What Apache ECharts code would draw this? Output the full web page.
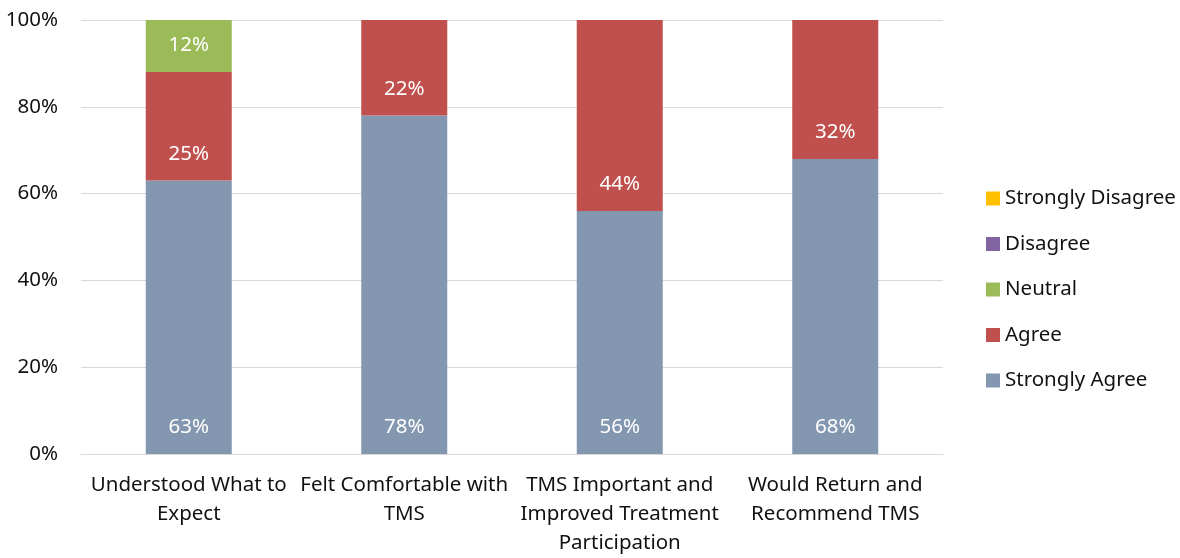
<!DOCTYPE html>
<html>
<head>
<meta charset="utf-8">
<script src="https://cdn.jsdelivr.net/npm/echarts@6/dist/echarts.min.js"></script>
<style>
  html, body { margin: 0; padding: 0; background: #fff; overflow: hidden; }
  #chart { width: 1180px; height: 558px; }
</style>
</head>
<body>
<div id="chart"></div>
<script>
// Survey items (wrapped onto lines as drawn under the axis)
const categories = [
  'Understood What to\nExpect',
  'Felt Comfortable with\nTMS',
  'TMS Important and\nImproved Treatment\nParticipation',
  'Would Return and\nRecommend TMS'
];

// Percent of responses per answer, one value per item
const stronglyAgree    = [63, 78, 56, 68];
const agree            = [25, 22, 44, 32];
const neutral          = [12, 0, 0, 0];
const disagree         = [0, 0, 0, 0];
const stronglyDisagree = [0, 0, 0, 0];

const yTicks = { min: 0, max: 100, interval: 20 };

const FONT = '"Noto Sans", "Open Sans", sans-serif';
const FS = 20.5;

const seriesDefs = [
  { name: 'Strongly Agree',    data: stronglyAgree,    color: '#8497B0' },
  { name: 'Agree',             data: agree,            color: '#C0504D' },
  { name: 'Neutral',           data: neutral,          color: '#9BBB59' },
  { name: 'Disagree',          data: disagree,         color: '#8064A2' },
  { name: 'Strongly Disagree', data: stronglyDisagree, color: '#FFC000' }
];

const chart = echarts.init(document.getElementById('chart'), null, { renderer: 'canvas' });

chart.setOption({
  animation: false,
  backgroundColor: '#ffffff',
  textStyle: { fontFamily: FONT },
  grid: { left: 81, right: 237, top: 20, height: 439, containLabel: false },
  legend: {
    orient: 'vertical',
    left: 981,
    top: 183,
    itemWidth: 14,
    itemHeight: 14,
    itemGap: 24.5,
    icon: 'rect',
    data: seriesDefs.map(s => s.name).reverse(),
    textStyle: { fontFamily: FONT, fontSize: FS, color: '#111', lineHeight: 20 }
  },
  xAxis: {
    type: 'category',
    data: categories,
    axisLine: { show: true, lineStyle: { color: '#D9D9D9', width: 1 } },
    axisTick: { show: false },
    axisLabel: {
      interval: 0,
      margin: 17,
      fontFamily: FONT,
      fontSize: FS,
      lineHeight: 29,
      color: '#111',
      align: 'center'
    }
  },
  yAxis: {
    type: 'value',
    min: yTicks.min,
    max: yTicks.max,
    interval: yTicks.interval,
    axisLine: { show: false },
    axisTick: { show: false },
    splitLine: { lineStyle: { color: '#D9D9D9', width: 1 } },
    axisLabel: {
      margin: 23,
      fontFamily: FONT,
      fontSize: FS,
      color: '#111',
      formatter: '{value}%'
    }
  },
  series: seriesDefs.map(s => ({
    name: s.name,
    type: 'bar',
    stack: 'total',
    barWidth: 86,
    data: s.data,
    itemStyle: { color: s.color },
    label: {
      show: true,
      position: 'insideBottom',
      distance: 16,
      color: '#ffffff',
      fontFamily: FONT,
      fontSize: FS,
      formatter: p => (p.value > 0 ? p.value + '%' : '')
    }
  }))
});
</script>
</body>
</html>
